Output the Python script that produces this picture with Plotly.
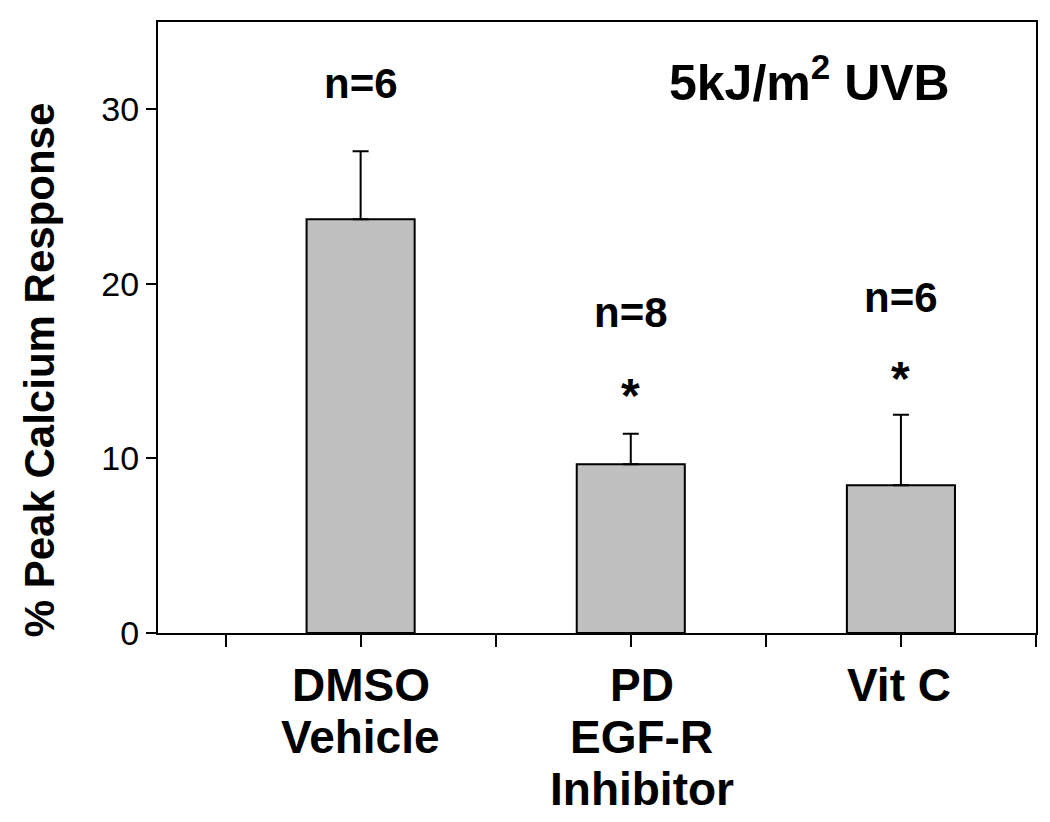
import plotly.graph_objects as go

# ---- data ----
categories = ["DMSO<br>Vehicle", "PD<br>EGF-R<br>Inhibitor", "Vit C"]
cat_positions = [1, 3, 5]
means = [23.7, 9.67, 8.47]
sem = [3.9, 1.74, 4.03]
n_labels = ["n=6", "n=8", "n=6"]
significance = ["", "*", "*"]
y_ticks = [0, 10, 20, 30]
condition_text = "5kJ/m<sup>2</sup> UVB"
y_title = "% Peak Calcium Response"

# ---- layout helpers ----
FONT = "Liberation Sans, Arial, sans-serif"
n_label_y = [31.45, 18.35, 19.2]
star_y = [None, 13.6, 14.6]
label_xshift = [0, 11, -2]

fig = go.Figure()
fig.add_trace(go.Bar(
    x=cat_positions, y=means, width=0.8,
    marker=dict(color="#c0c0c0", line=dict(color="black", width=2)),
    error_y=dict(type="data", symmetric=False, array=sem,
                 arrayminus=[0] * len(sem), color="black",
                 thickness=2, width=8),
    showlegend=False,
))

annotations = []
# category labels, one annotation per line for tight spacing
for pos, lab, xs in zip(cat_positions, categories, label_xshift):
    for i, line in enumerate(lab.split("<br>")):
        annotations.append(dict(
            x=pos, y=0, xref="x", yref="y", text=line, showarrow=False,
            xanchor="center", yanchor="middle", yshift=-(52 + 52 * i),
            xshift=xs,
            font=dict(family=FONT, size=46, color="black", weight="bold"),
        ))
for pos, txt, yy in zip(cat_positions, n_labels, n_label_y):
    annotations.append(dict(
        x=pos, y=yy, xref="x", yref="y", text=txt, showarrow=False,
        xanchor="center", yanchor="middle",
        font=dict(family=FONT, size=42, color="black", weight="bold"),
    ))
for pos, txt, yy in zip(cat_positions, significance, star_y):
    if txt:
        annotations.append(dict(
            x=pos, y=yy, xref="x", yref="y", text=txt, showarrow=False,
            xanchor="center", yanchor="middle",
            font=dict(family=FONT, size=48, color="black", weight="bold"),
        ))
annotations.append(dict(
    x=4.32, y=31.75, xref="x", yref="y", text=condition_text, showarrow=False,
    xanchor="center", yanchor="middle",
    font=dict(family=FONT, size=50, color="black", weight="bold"),
))
annotations.append(dict(
    x=0, y=0.43, xref="paper", yref="paper", text=y_title, showarrow=False,
    xanchor="center", yanchor="middle", xshift=-119, textangle=-90,
    font=dict(family=FONT, size=42, color="black", weight="bold"),
))

fig.update_layout(
    width=1050, height=822,
    margin=dict(l=150, r=22, t=12, b=197),
    paper_bgcolor="white", plot_bgcolor="white",
    annotations=annotations,
    xaxis=dict(
        range=[-0.5, 6], tickvals=list(range(0, 7)), showticklabels=False,
        ticks="outside", ticklen=12, tickwidth=2, tickcolor="black",
        showline=True, linecolor="black", linewidth=2, mirror=True,
        showgrid=False, zeroline=False,
    ),
    yaxis=dict(
        range=[0, 35], tickvals=y_ticks, ticks="outside", ticklen=10,
        tickwidth=2, tickcolor="black",
        showline=True, linecolor="black", linewidth=2, mirror=True,
        showgrid=False, zeroline=False,
        tickfont=dict(family=FONT, size=34, color="black"),
    ),
)

fig.write_html("out.html")
